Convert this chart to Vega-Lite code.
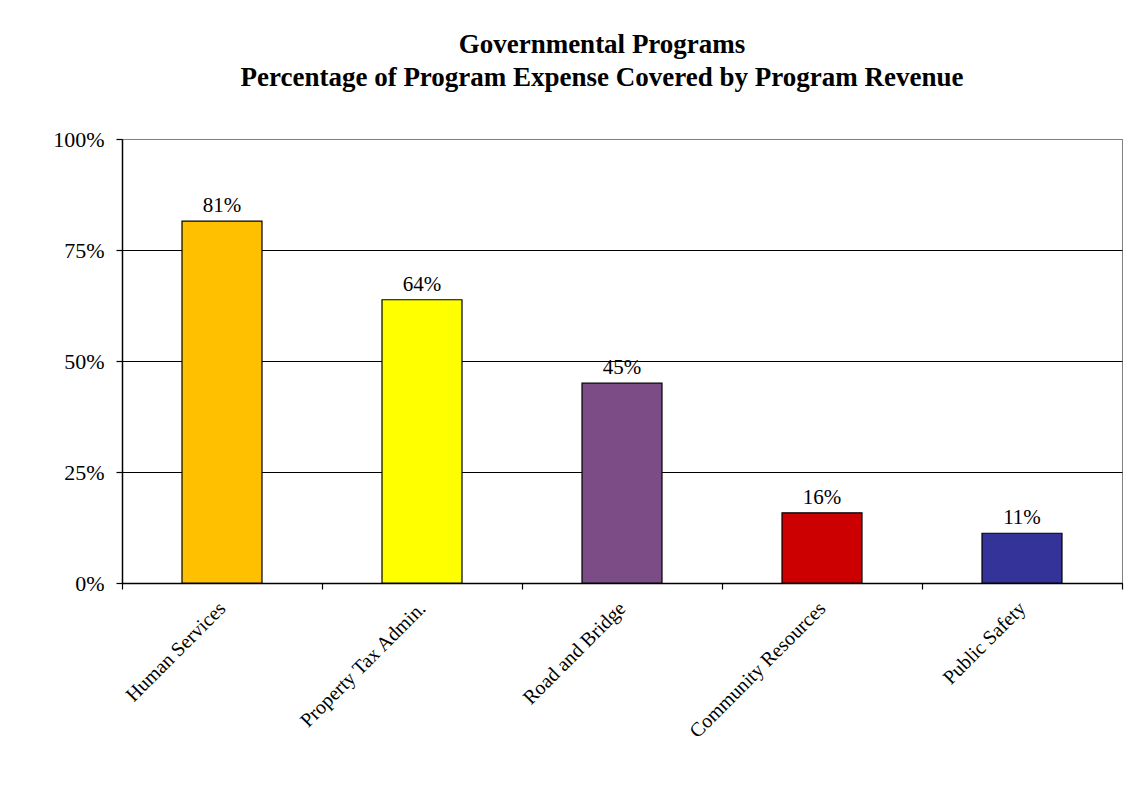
{
  "$schema": "https://vega.github.io/schema/vega-lite/v6.json",
  "autosize": {"type": "none"},
  "width": 1000,
  "height": 444,
  "padding": {"left": 122, "top": 139, "right": 7, "bottom": 224},
  "background": "white",
  "title": {
    "text": ["Governmental  Programs", "Percentage of Program  Expense Covered by Program  Revenue"],
    "font": "Liberation Serif",
    "fontSize": 27,
    "fontWeight": "bold",
    "color": "black",
    "anchor": "middle",
    "dx": -20,
    "offset": 36,
    "lineHeight": 33
  },
  "data": {
    "values": [
      {"program": "Human Services", "pct": 0.815, "label": "81%"},
      {"program": "Property Tax Admin.", "pct": 0.638, "label": "64%"},
      {"program": "Road and Bridge", "pct": 0.45, "label": "45%"},
      {"program": "Community Resources", "pct": 0.158, "label": "16%"},
      {"program": "Public Safety", "pct": 0.112, "label": "11%"}
    ]
  },
  "config": {
    "view": {"stroke": "#808080", "strokeWidth": 1},
    "font": "Liberation Serif"
  },
  "encoding": {
    "x": {
      "field": "program",
      "type": "nominal",
      "sort": null,
      "scale": {"paddingInner": 0, "paddingOuter": 0},
      "axis": {
        "title": null,
        "labelAngle": -45,
        "labelAlign": "right",
        "labelBaseline": "middle",
        "labelFont": "Liberation Serif",
        "labelFontSize": 20,
        "labelLimit": 0,
        "labelColor": "black",
        "labelPadding": 16,
        "tickBand": "extent",
        "tickColor": "black",
        "tickSize": 6,
        "tickWidth": 1.2,
        "domainColor": "black",
        "domainWidth": 1.5
      }
    },
    "y": {
      "field": "pct",
      "type": "quantitative",
      "scale": {"domain": [0, 1], "nice": false},
      "axis": {
        "title": null,
        "values": [0, 0.25, 0.5, 0.75, 1],
        "format": ".0%",
        "labelFont": "Liberation Serif",
        "labelFontSize": 22,
        "labelColor": "black",
        "labelPadding": 12,
        "tickColor": "black",
        "tickSize": 6,
        "tickWidth": 1.2,
        "domainColor": "black",
        "domainWidth": 1.5,
        "gridColor": {"condition": {"test": "datum.value >= 1", "value": "#808080"}, "value": "black"},
        "gridOpacity": 1,
        "gridWidth": 1.2
      }
    }
  },
  "layer": [
    {
      "mark": {"type": "bar", "stroke": "black", "strokeWidth": 1.2, "width": {"band": 0.4}},
      "encoding": {
        "color": {
          "field": "program",
          "type": "nominal",
          "sort": null,
          "scale": {
            "domain": ["Human Services", "Property Tax Admin.", "Road and Bridge", "Community Resources", "Public Safety"],
            "range": ["#FFC000", "#FFFF00", "#7B4C86", "#CC0000", "#333399"]
          },
          "legend": null
        }
      }
    },
    {
      "mark": {"type": "text", "baseline": "bottom", "dy": -5, "font": "Liberation Serif", "fontSize": 21, "color": "black"},
      "encoding": {"text": {"field": "label"}}
    }
  ]
}
